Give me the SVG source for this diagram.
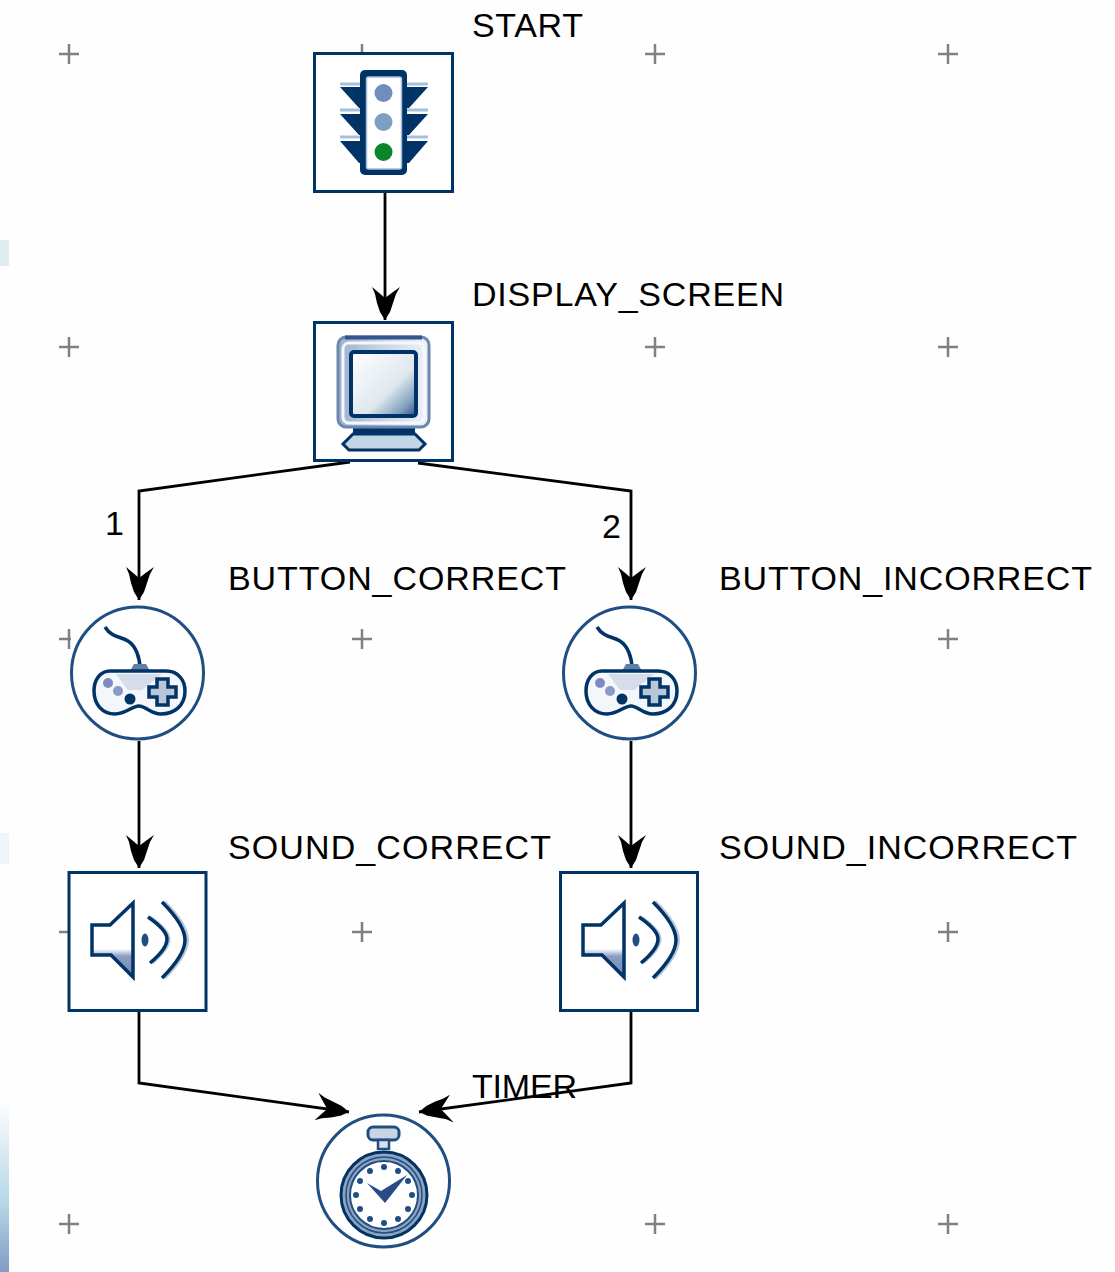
<svg xmlns="http://www.w3.org/2000/svg" xmlns:xlink="http://www.w3.org/1999/xlink" width="1115" height="1272" viewBox="0 0 1115 1272">
<style>
.lbl{font-family:"Liberation Sans",Arial,sans-serif;font-size:34px;fill:#000}
.plus{stroke:#808080;stroke-width:2.5;fill:none}
.box{fill:#fff;stroke:#003366;stroke-width:3}
.ring{fill:#fff;stroke:#1f4f82;stroke-width:3}
.wire{fill:none;stroke:#000;stroke-width:2.8;marker-end:url(#head)}
.navy{fill:#003366}
.ln{fill:none;stroke:#003366}
</style>
<defs>
<marker id="head" markerUnits="userSpaceOnUse" markerWidth="40" markerHeight="36" viewBox="-36 -18 40 36" refX="0" refY="0" orient="auto">
<path d="M0,0 L-8,-5 L-17,-8 L-26,-11 L-33,-15 L-28,-8 L-22,0 L-28,7 L-33,13 L-26,10 L-17,8 L-8,5 Z" fill="#000"/>
</marker>
<linearGradient id="screen" x1="0" y1="0" x2="1" y2="1"><stop offset="0" stop-color="#fff"/><stop offset=".6" stop-color="#dfe8ee"/><stop offset=".85" stop-color="#7f9cbc"/><stop offset="1" stop-color="#2f4f85"/></linearGradient>
<linearGradient id="bezel" x1="0" y1="0" x2="1" y2="0"><stop offset="0" stop-color="#9db2cf"/><stop offset=".5" stop-color="#c9d6e6"/><stop offset="1" stop-color="#eef3f8"/></linearGradient>
<linearGradient id="horn" x1="0" y1="0" x2="0" y2="1"><stop offset="0" stop-color="#fff"/><stop offset=".62" stop-color="#fff"/><stop offset=".72" stop-color="#8a9dc2"/><stop offset="1" stop-color="#7088b5"/></linearGradient>
<linearGradient id="edge3" x1="0" y1="0" x2="0" y2="1"><stop offset="0" stop-color="#fbfcfe"/><stop offset=".6" stop-color="#b4d6e6"/><stop offset="1" stop-color="#7f9cc4"/></linearGradient>
<g id="pad">
<path class="ln" stroke-width="3.500" d="M105,627 C112,638 120,636 128,641 C136,646 140,658 140,669"/>
<path d="M130,671 H150 L146,664 H134 Z" fill="#5f7fa5"/>
<path d="M110,671 H166 C178,671 185,680 185,691 C185,706 174,714 161,714 C150,714 146,706 139,706 C132,706 126,714 115,714 C102,714 94,704 94,691 C94,680 100,671 110,671 Z" fill="#f3f6fa" stroke="#003366" stroke-width="3.500"/>
<path d="M116,674 H162 L142,690 H128 Z" fill="#d4dde9"/>
<circle cx="108" cy="683" r="5" fill="#7d8cc0"/>
<circle cx="118" cy="691" r="5" fill="#8a9ac8"/>
<circle cx="130" cy="699" r="5.500" fill="#003366"/>
<path d="M157,679 H168 V687 H176 V697 H168 V705 H157 V697 H149 V687 H157 Z" fill="#b8c6d6" stroke="#003366" stroke-width="3.500"/>
</g>
<g id="spk">
<path d="M92,925 H110 L133,903 V977 L111,955 H92 Z" fill="url(#horn)" stroke="#003366" stroke-width="3.500"/>
<ellipse cx="145" cy="940" rx="3.500" ry="6.500" fill="#1f4f82"/>
<path d="M150,917 Q169,930 169,939 Q169,949 152,963" fill="none" stroke="#b9c6da" stroke-width="3"/>
<path d="M164,902 Q187,925 187,940 Q187,955 164,978" fill="none" stroke="#b9c6da" stroke-width="4"/>
<path class="ln" stroke-width="3.500" d="M148,917 Q167,930 167,939 Q167,949 150,963"/>
<path class="ln" stroke-width="3.500" d="M162,902 Q185,925 185,940 Q185,955 162,978"/>
</g>
</defs>
<rect width="1115" height="1272" fill="#fefefe"/>
<g id="edges">
<rect x="0" y="240" width="9" height="26" fill="#dfecef"/>
<rect x="0" y="833" width="9" height="31" fill="#eef4f7"/>
<rect x="0" y="1104" width="9" height="168" fill="url(#edge3)"/>
</g>
<g id="grid" class="plus">
<path d="M59,54H79M69,44V64M352,54H372M362,44V54M645,54H665M655,44V64M938,54H958M948,44V64"/>
<path d="M59,347H79M69,337V357M645,347H665M655,337V357M938,347H958M948,337V357"/>
<path d="M59,639H71M69,629V649M352,639H372M362,629V649M938,639H958M948,629V649"/>
<path d="M59,932H68M352,932H372M362,922V942M938,932H958M948,922V942"/>
<path d="M59,1224H79M69,1214V1234M645,1224H665M655,1214V1234M938,1224H958M948,1214V1234"/>
</g>
<g id="connectors">
<path class="wire" d="M385,192V320"/>
<path class="wire" d="M350,462L139,491V600"/>
<path class="wire" d="M418,463L631,491V600"/>
<path class="wire" d="M139,741V868"/>
<path class="wire" d="M631,741V868"/>
<path class="wire" d="M139,1011V1083L349,1112"/>
<path class="wire" d="M631,1011V1083L419,1112"/>
</g>
<g id="start">
<rect class="box" x="314.500" y="53.500" width="138" height="138"/>
<path class="navy" d="M340,87 H364 V108 H359 Z M428,87 H404 V108 H409 Z M340,114 H364 V135 H359 Z M428,114 H404 V135 H409 Z M340,141 H364 V163 H359 Z M428,141 H404 V163 H409 Z"/>
<path d="M340,84H361M407,84H428M340,110H361M407,110H428M340,137H361M407,137H428" stroke="#a9c0da" stroke-width="3" fill="none"/>
<rect class="navy" x="360" y="70" width="47" height="105" rx="5"/>
<rect x="366.500" y="77" width="35" height="92" rx="2" fill="#fff" stroke="#a9bcd6" stroke-width="1.500"/>
<circle cx="383.500" cy="93" r="9" fill="#6f8dbd"/>
<circle cx="383.500" cy="122" r="9" fill="#7f9fc2"/>
<circle cx="383.500" cy="152" r="9" fill="#0b8529"/>
<text class="lbl" x="472" y="37" textLength="111">START</text>
</g>
<g id="display_screen">
<rect class="box" x="314.500" y="322.500" width="138" height="138"/>
<path d="M353,434 L343,444 L349,450 H419 L425,444 L415,434 Z" fill="#c3d6e6" stroke="#003366" stroke-width="3"/>
<rect class="navy" x="353" y="428" width="62" height="7"/>
<rect x="338" y="337" width="91" height="90" rx="8" fill="url(#bezel)" stroke="#6f86ad" stroke-width="3"/>
<path d="M345,337.500H422" stroke="#35558c" stroke-width="4" fill="none"/>
<rect x="343" y="343" width="81" height="80" rx="6" fill="none" stroke="#f4f7fb" stroke-width="3"/>
<rect x="351" y="352" width="65" height="64" rx="3" fill="url(#screen)" stroke="#003366" stroke-width="4"/>
<text class="lbl" x="472" y="306" textLength="312">DISPLAY_SCREEN</text>
</g>
<g id="button_correct">
<circle class="ring" cx="137.500" cy="673" r="66"/>
<use href="#pad"/>
<text class="lbl" x="228" y="590" textLength="338">BUTTON_CORRECT</text>
<text class="lbl" x="105" y="535">1</text>
</g>
<g id="button_incorrect">
<circle class="ring" cx="629.500" cy="673" r="66"/>
<use href="#pad" x="492"/>
<text class="lbl" x="719" y="590" textLength="373">BUTTON_INCORRECT</text>
<text class="lbl" x="602" y="538">2</text>
</g>
<g id="sound_correct">
<rect class="box" x="69" y="872.500" width="137" height="138"/>
<use href="#spk"/>
<text class="lbl" x="228" y="859" textLength="323">SOUND_CORRECT</text>
</g>
<g id="sound_incorrect">
<rect class="box" x="560.500" y="872.500" width="137" height="138"/>
<use href="#spk" x="491"/>
<text class="lbl" x="719" y="859" textLength="358">SOUND_INCORRECT</text>
</g>
<g id="timer">
<circle class="ring" cx="383.500" cy="1181" r="66"/>
<rect x="368" y="1127" width="31" height="13" rx="5" fill="#c8d4e4" stroke="#1f4f82" stroke-width="3"/>
<rect x="378" y="1140" width="11" height="9" fill="#d8e0ea" stroke="#1f4f82" stroke-width="2.500"/>
<circle cx="384" cy="1195" r="43" fill="#8fa2c0" stroke="#003366" stroke-width="3"/>
<circle cx="384" cy="1195" r="38" fill="none" stroke="#1f4f82" stroke-width="1.500"/>
<circle cx="384" cy="1195" r="34" fill="#fff" stroke="#1f4f82" stroke-width="2"/>
<path d="M367,1183 L381,1191 L407,1175 L385,1203 Z" fill="#2a4a88"/>
<g fill="#1f4f82">
<circle cx="384" cy="1167" r="3"/><circle cx="398" cy="1171" r="3"/><circle cx="408" cy="1181" r="3"/><circle cx="412" cy="1195" r="3"/><circle cx="408" cy="1209" r="3"/><circle cx="398" cy="1219" r="3"/><circle cx="384" cy="1223" r="3"/><circle cx="370" cy="1219" r="3"/><circle cx="360" cy="1209" r="3"/><circle cx="356" cy="1195" r="3"/><circle cx="360" cy="1181" r="3"/><circle cx="370" cy="1171" r="3"/>
</g>
<text class="lbl" x="472" y="1098" textLength="105">TIMER</text>
</g>
</svg>
